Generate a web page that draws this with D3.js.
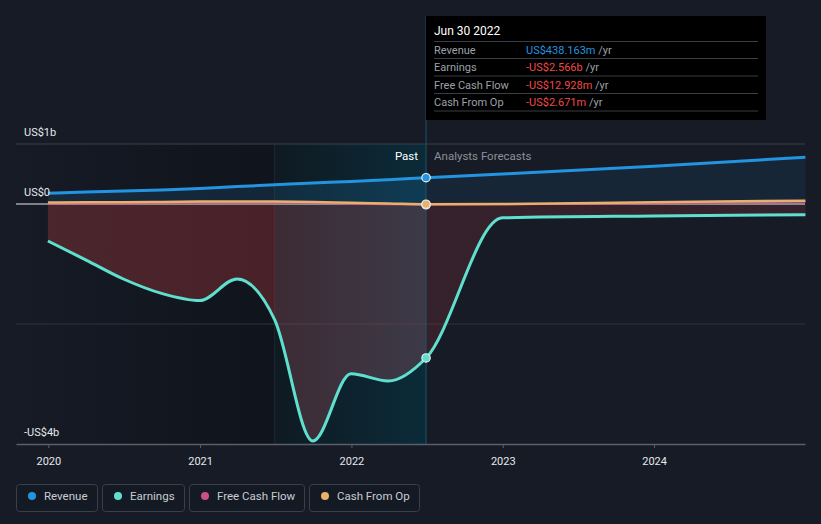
<!DOCTYPE html>
<html><head><meta charset="utf-8">
<script src="https://cdn.jsdelivr.net/npm/d3@7"></script>
<style>
html,body{margin:0;padding:0;background:#161b26;}
svg{display:block;font-family:Roboto,"Noto Sans",sans-serif;}
</style></head>
<body>
<svg id="chart" width="821" height="524"></svg>
<script>
// ---- data (US$ billions) ----
const pastDates = ["2019-12-31","2020-03-31","2020-06-30","2020-09-30","2020-12-31","2021-03-31","2021-06-30","2021-09-30","2021-12-31","2022-03-31","2022-06-30"];
const forecastDates = ["2022-12-31","2023-12-31","2024-12-31"];
const revenuePast = [0.18,0.20,0.215,0.235,0.26,0.29,0.32,0.35,0.375,0.405,0.438];
const revenueForecast = [0.50,0.63,0.78];
const earningsPast = [-0.617,-0.93,-1.25,-1.49,-1.61,-1.25,-1.93,-3.95,-2.83,-2.95,-2.566];
const earningsForecast = [-0.23,-0.20,-0.18];
const fcfPast = [0.005,0.01,0.01,0.015,0.02,0.02,0.02,0.015,0.0,-0.01,-0.013];
const fcfForecast = [-0.01,0.01,0.035];
const cfoPast = [0.025,0.03,0.03,0.035,0.04,0.04,0.04,0.035,0.02,0.01,-0.003];
const cfoForecast = [0.0,0.03,0.055];
const yTickValues = [1,0,-4];
const yTickLabels = ["US$1b","US$0","-US$4b"];
const xTickYears = [2020,2021,2022,2023,2024];
const legendNames = ["Revenue","Earnings","Free Cash Flow","Cash From Op"];
const colors = {Revenue:"#2394df",Earnings:"#5fe0cf","Free Cash Flow":"#c9508a","Cash From Op":"#e8b06a"};
const tooltipTitle = "Jun 30 2022";
const tooltipRows = [["Revenue","US$438.163m",false],["Earnings","-US$2.566b",true],["Free Cash Flow","-US$12.928m",true],["Cash From Op","-US$2.671m",true]];
const highlightStart = "2021-06-30", highlightEnd = "2022-06-30";

const parse = d3.utcParse("%Y-%m-%d");
const dates = pastDates.concat(forecastDates).map(parse);
function series(p,f){ return p.concat(f).map((v,i)=>({d:dates[i],v})); }
const revenue = series(revenuePast,revenueForecast);
const earnings = series(earningsPast,earningsForecast);
const fcf = series(fcfPast,fcfForecast);
const cfo = series(cfoPast,cfoForecast);

const svg = d3.select("#chart");
const W=821,H=524;
const x = d3.scaleUtc().domain([parse("2019-10-15"),parse("2024-12-30")]).range([16,805]);
const y = d3.scaleLinear().domain([-4,1]).range([444,144]);
const defs = svg.append("defs");

svg.append("rect").attr("width",W).attr("height",H).attr("fill","#161b26");

const x0 = x.range()[0], x1 = x.range()[1];
const xh0 = x(parse(highlightStart)), xh1 = x(parse(highlightEnd));

// past shading
const gPast = defs.append("linearGradient").attr("id","gPast").attr("gradientUnits","userSpaceOnUse")
  .attr("x1",x0).attr("x2",xh0).attr("y1",0).attr("y2",0);
gPast.append("stop").attr("offset",0).attr("stop-color","#0c0f15").attr("stop-opacity",0.05);
gPast.append("stop").attr("offset",1).attr("stop-color","#0c0f15").attr("stop-opacity",0.6);
svg.append("rect").attr("x",x0).attr("y",y(1)).attr("width",xh0-x0).attr("height",y(-4)-y(1)).attr("fill","url(#gPast)");

const gHi = defs.append("linearGradient").attr("id","gHi").attr("gradientUnits","userSpaceOnUse")
  .attr("x1",xh0).attr("x2",xh1).attr("y1",0).attr("y2",0);
gHi.append("stop").attr("offset",0).attr("stop-color","#0f1a22");
gHi.append("stop").attr("offset",1).attr("stop-color","#0b2b39");
svg.append("rect").attr("x",xh0).attr("y",y(1)).attr("width",xh1-xh0).attr("height",y(-4)-y(1)).attr("fill","url(#gHi)");
svg.append("line").attr("x1",xh0).attr("x2",xh0).attr("y1",y(1)).attr("y2",y(-4)).attr("stroke","#1b2a33").attr("stroke-width",1);

// gridlines
svg.append("line").attr("x1",x0).attr("x2",x1).attr("y1",y(1)).attr("y2",y(1)).attr("stroke","#3b404a").attr("stroke-width",1);
svg.append("line").attr("x1",x0).attr("x2",x1).attr("y1",y(-2)).attr("y2",y(-2)).attr("stroke","#2e333d").attr("stroke-width",1);

// gradients for areas
function off(px){ return (px-x0)/(x1-x0); }
const gE = defs.append("linearGradient").attr("id","gE").attr("gradientUnits","userSpaceOnUse")
  .attr("x1",x0).attr("x2",x1).attr("y1",0).attr("y2",0);
[[0,"rgb(178,59,63)",0.35],[off(xh0),"rgb(178,59,63)",0.35],[off(xh0),"rgb(146,74,86)",0.35],
 [off(xh1),"rgb(151,86,100)",0.35],[off(xh1),"rgb(178,59,63)",0.2],[1,"rgb(178,59,63)",0.2]]
 .forEach(s=>gE.append("stop").attr("offset",s[0]).attr("stop-color",s[1]).attr("stop-opacity",s[2]));
const gR = defs.append("linearGradient").attr("id","gR").attr("gradientUnits","userSpaceOnUse")
  .attr("x1",x0).attr("x2",x1).attr("y1",0).attr("y2",0);
[[0,0.13],[off(xh1),0.16],[off(xh1),0.09],[1,0.09]]
 .forEach(s=>gR.append("stop").attr("offset",s[0]).attr("stop-color","#2394df").attr("stop-opacity",s[1]));

const curve = d3.curveMonotoneX;
const area = d3.area().x(d=>x(d.d)).y0(y(0)).y1(d=>y(d.v)).curve(curve);
const line = d3.line().x(d=>x(d.d)).y(d=>y(d.v)).curve(curve);

svg.append("path").datum(revenue).attr("d",area).attr("fill","url(#gR)");
svg.append("path").datum(earnings).attr("d",area).attr("fill","url(#gE)");

// zero line
svg.append("line").attr("x1",x0).attr("x2",x1).attr("y1",y(0)).attr("y2",y(0)).attr("stroke","#e8e8ea").attr("stroke-width",1.2);

// lines
svg.append("path").datum(fcf).attr("d",line).attr("fill","none").attr("stroke",colors["Free Cash Flow"]).attr("stroke-width",1.5);
svg.append("path").datum(cfo).attr("d",line).attr("fill","none").attr("stroke",colors["Cash From Op"]).attr("stroke-width",2.5);
svg.append("path").datum(earnings).attr("d",line).attr("fill","none").attr("stroke",colors.Earnings).attr("stroke-width",3);
svg.append("path").datum(revenue).attr("d",line).attr("fill","none").attr("stroke",colors.Revenue).attr("stroke-width",3);

// vertical marker line
svg.append("line").attr("x1",xh1).attr("x2",xh1).attr("y1",16).attr("y2",y(-4)).attr("stroke","#1f5366").attr("stroke-width",1);

// dots
const idx = pastDates.length-1;
[[fcf,"Free Cash Flow"],[cfo,"Cash From Op"],[earnings,"Earnings"],[revenue,"Revenue"]].forEach(([s,k])=>{
  svg.append("circle").attr("cx",x(s[idx].d)).attr("cy",y(s[idx].v)).attr("r",4.2)
    .attr("fill",colors[k]).attr("stroke","#e8eef2").attr("stroke-width",1.2);
});

// Past / forecast labels
svg.append("text").attr("x",xh1-8).attr("y",160).attr("text-anchor","end").attr("fill","#ffffff").attr("font-size",11.5).text("Past");
svg.append("text").attr("x",xh1+8).attr("y",160).attr("fill","#8b9098").attr("font-size",11.5).text("Analysts Forecasts");

// y labels
yTickValues.forEach((v,i)=>{
  svg.append("text").attr("x",24).attr("y",y(v)-8).attr("fill","#e6e8ec").attr("font-size",11).text(yTickLabels[i]);
});

// x axis
const xAxis = d3.axisBottom(x).tickValues(xTickYears.map(yr=>new Date(Date.UTC(yr,0,1)))).tickFormat(d3.utcFormat("%Y")).tickSize(4).tickSizeOuter(0);
const ax = svg.append("g").attr("transform",`translate(0,${y(-4)})`).call(xAxis);
ax.select(".domain").attr("stroke","#5a5f69").attr("stroke-width",1.5);
ax.selectAll(".tick line").attr("stroke","#5a5f69");
ax.selectAll(".tick text").attr("fill","#e6e8ec").attr("font-size",11).attr("font-family","Roboto,sans-serif").attr("dy","1.3em");

// tooltip
const tt = svg.append("g");
tt.append("rect").attr("x",426).attr("y",16).attr("width",340).attr("height",104).attr("fill","#000000");
tt.append("text").attr("x",434).attr("y",35).attr("fill","#ffffff").attr("font-size",12).text(tooltipTitle);
const sepY = [41.5,58.5,76,93.5,111];
sepY.forEach(yy=>tt.append("line").attr("x1",434).attr("x2",758).attr("y1",yy).attr("y2",yy).attr("stroke","#3a3d44").attr("stroke-width",1));
tooltipRows.forEach((r,i)=>{
  const by = sepY[i]+12.5;
  tt.append("text").attr("x",434).attr("y",by).attr("fill","#9ca1a8").attr("font-size",11).text(r[0]);
  const t = tt.append("text").attr("x",526).attr("y",by).attr("font-size",11);
  t.append("tspan").attr("fill",r[2]?"#f04a48":colors.Revenue).text(r[1]);
  t.append("tspan").attr("fill","#9ca1a8").text(" /yr");
});

// legend
const lg = svg.append("g");
let lx = 16;
const legendWidths = [81,82,115,110];
legendNames.forEach((n,i)=>{
  const w = legendWidths[i];
  lg.append("rect").attr("x",lx+0.5).attr("y",484.5).attr("width",w).attr("height",27).attr("rx",3)
    .attr("fill","#141a24").attr("stroke","#3a3f4a").attr("stroke-width",1);
  lg.append("circle").attr("cx",lx+16).attr("cy",496).attr("r",4).attr("fill",colors[n]);
  lg.append("text").attr("x",lx+28).attr("y",500).attr("fill","#c9ccd1").attr("font-size",11.5).text(n);
  lx += w+5;
});
</script>
</body></html>
